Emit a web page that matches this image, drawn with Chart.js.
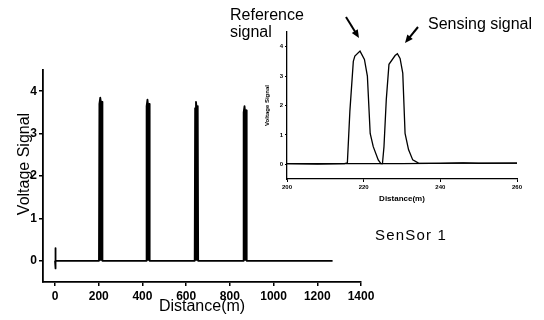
<!DOCTYPE html>
<html>
<head>
<meta charset="utf-8">
<script src="https://cdn.jsdelivr.net/npm/chart.js@4.4.1/dist/chart.umd.min.js"></script>
<style>
  body { margin: 0; background: #fff; }
  #wrap { position: relative; width: 544px; height: 320px; overflow: hidden; }
  canvas { position: absolute; }
  #main { left: 0; top: 0; }
  #inset { left: 250px; top: 0; }
</style>
</head>
<body>
<div id="wrap">
  <canvas id="main" width="544" height="320"></canvas>
  <canvas id="inset" width="294" height="215"></canvas>
</div>
<script>
// main trace along the fibre (m, V)
const mainDistance = [0, 1, 2, 4, 120, 201, 203, 207, 211, 215, 217, 300,
  417, 419, 423, 427, 431, 433, 530, 639, 641, 645, 649, 653, 655, 750,
  861, 863, 867, 871, 875, 877, 1000, 1270];
const mainVoltage = [0, 0.3, -0.18, 0, 0, 0, 3.7, 3.85, 3.7, 3.75, 0, 0,
  0, 3.65, 3.8, 3.6, 3.7, 0, 0, 0, 3.6, 3.75, 3.55, 3.65, 0, 0,
  0, 3.5, 3.65, 3.45, 3.55, 0, 0, 0];

// inset: zoom on sensor 1
const refDistance = [200, 208, 215, 215.75, 216.4, 217.3, 217.7, 219.05, 220.2, 220.97,
  221.7, 222.5, 223.8, 224.5, 230, 245, 260];
const refVoltage = [0.02, 0.01, 0.02, 0.05, 1.8, 3.5, 3.68, 3.85, 3.57, 3.0,
  1.05, 0.6, 0.15, 0.02, 0.02, 0.04, 0.04];
const senseDistance = [200, 215, 224.9, 225.3, 225.9, 226.6, 228.2, 228.8, 229.5, 230.2,
  230.8, 231.7, 232.8, 234.3, 240, 246, 250, 260];
const senseVoltage = [0.02, 0.02, 0.02, 0.6, 2.2, 3.4, 3.7, 3.76, 3.6, 3.1,
  1.05, 0.5, 0.15, 0.04, 0.03, 0.05, 0.03, 0.04];

// tick labels
const mainXTicks = [0, 200, 400, 600, 800, 1000, 1200, 1400];
const mainXMinor = [100, 300, 500, 700, 900, 1100, 1300];
const mainYTicks = [0, 1, 2, 3, 4];
const insetXTicks = [200, 220, 240, 260];
const insetYTicks = [0, 1, 2, 3, 4];

const FONT = "'Liberation Sans', Arial, sans-serif";
const toPoints = (xs, ys) => xs.map((x, i) => ({ x: x, y: ys[i] }));

function axisStyle(tickLen, width) {
  return {
    display: true,
    drawOnChartArea: false,
    drawTicks: true,
    tickLength: tickLen,
    color: "#000",
    lineWidth: width,
  };
}

function arrow(ctx, x1, y1, x2, y2) {
  const a = Math.atan2(y2 - y1, x2 - x1);
  ctx.lineWidth = 2;
  ctx.beginPath();
  ctx.moveTo(x1, y1);
  ctx.lineTo(x2 - 5 * Math.cos(a), y2 - 5 * Math.sin(a));
  ctx.stroke();
  ctx.beginPath();
  ctx.moveTo(x2, y2);
  ctx.lineTo(x2 - 8 * Math.cos(a) + 3.5 * Math.sin(a), y2 - 8 * Math.sin(a) - 3.5 * Math.cos(a));
  ctx.lineTo(x2 - 8 * Math.cos(a) - 3.5 * Math.sin(a), y2 - 8 * Math.sin(a) + 3.5 * Math.cos(a));
  ctx.closePath();
  ctx.fill();
}

// y title, labels and arrows around the inset
const notes = {
  id: "notes",
  afterDraw(chart) {
    const ctx = chart.ctx;
    ctx.save();
    ctx.fillStyle = "#000";
    ctx.strokeStyle = "#000";
    ctx.font = "16px " + FONT;
    ctx.save();
    ctx.translate(25, 164);
    ctx.rotate(-Math.PI / 2);
    ctx.textAlign = "center";
    ctx.textBaseline = "middle";
    ctx.fillText("Voltage Signal", 0, 0);
    ctx.restore();
    ctx.fillText("Reference", 230, 20);
    ctx.fillText("signal", 230, 37);
    ctx.fillText("Sensing signal", 428, 29);
    ctx.font = "15px " + FONT;
    ctx.letterSpacing = "1.2px";
    ctx.fillText("SenSor 1", 375, 240);
    ctx.letterSpacing = "0px";
    arrow(ctx, 346, 17, 359, 38);
    arrow(ctx, 418, 27, 405, 43);
    ctx.restore();
  },
};

const mainChart = new Chart(document.getElementById("main"), {
  type: "scatter",
  data: {
    datasets: [
      {
        data: toPoints(mainDistance, mainVoltage),
        showLine: true,
        borderColor: "#000",
        backgroundColor: "#000",
        fill: "origin",
        borderWidth: 1.8,
        borderJoinStyle: "round",
        pointRadius: 0,
      },
    ],
  },
  options: {
    responsive: false,
    animation: false,
    layout: { padding: { top: 70, right: 183, left: 0, bottom: 0 } },
    plugins: { legend: { display: false }, tooltip: { enabled: false } },
    scales: {
      x: {
        type: "linear",
        min: -55,
        max: 1400,
        grid: axisStyle(4, 1.5),
        border: { color: "#000", width: 1.8 },
        afterBuildTicks: (scale) => {
          scale.ticks = mainXTicks.concat(mainXMinor).sort((a, b) => a - b).map((v) => ({ value: v }));
        },
        afterFit: (scale) => { scale.height = 38; },
        ticks: {
          padding: 3,
          maxRotation: 0,
          color: "#000",
          font: { family: FONT, size: 12, weight: "bold" },
          callback: (v) => (mainXTicks.includes(v) ? v : ""),
        },
        title: {
          display: true,
          text: "Distance(m)",
          color: "#000",
          font: { family: FONT, size: 16 },
          padding: { top: 0, bottom: 4 },
        },
      },
      y: {
        min: -0.5,
        max: 4.5,
        grid: axisStyle(4, 1.5),
        border: { color: "#000", width: 1.8 },
        afterBuildTicks: (scale) => {
          scale.ticks = mainYTicks.map((v) => ({ value: v }));
        },
        afterFit: (scale) => { scale.width = 43; },
        ticks: {
          padding: 2,
          color: "#000",
          font: { family: FONT, size: 12, weight: "bold" },
        },
      },
    },
  },
  plugins: [notes],
});

const insetChart = new Chart(document.getElementById("inset"), {
  type: "scatter",
  data: {
    datasets: [
      {
        label: "Reference signal",
        data: toPoints(refDistance, refVoltage),
        showLine: true,
        borderColor: "#000",
        borderWidth: 1.3,
        pointRadius: 0,
      },
      {
        label: "Sensing signal",
        data: toPoints(senseDistance, senseVoltage),
        showLine: true,
        borderColor: "#000",
        borderWidth: 1.3,
        pointRadius: 0,
      },
    ],
  },
  options: {
    responsive: false,
    animation: false,
    layout: { padding: { top: 32, right: 27, left: 0, bottom: 0 } },
    plugins: { legend: { display: false }, tooltip: { enabled: false } },
    scales: {
      x: {
        type: "linear",
        min: 200,
        max: 260,
        grid: axisStyle(3, 1),
        border: { color: "#000", width: 1.3 },
        afterBuildTicks: (scale) => {
          scale.ticks = insetXTicks.map((v) => ({ value: v }));
        },
        afterFit: (scale) => { scale.height = 36; },
        ticks: {
          padding: 2,
          maxRotation: 0,
          color: "#000",
          font: { family: FONT, size: 6, weight: "bold" },
        },
        title: {
          display: true,
          text: "Distance(m)",
          color: "#000",
          font: { family: FONT, size: 8, weight: "bold" },
          padding: { top: 0, bottom: 11 },
        },
      },
      y: {
        min: -0.5,
        max: 4.5,
        grid: axisStyle(2, 1),
        border: { color: "#000", width: 1.3 },
        afterBuildTicks: (scale) => {
          scale.ticks = insetYTicks.map((v) => ({ value: v }));
        },
        afterFit: (scale) => { scale.width = 37; },
        ticks: {
          padding: 2,
          color: "#000",
          font: { family: FONT, size: 6, weight: "bold" },
        },
        title: {
          display: true,
          text: "Voltage Signal",
          color: "#000",
          font: { family: FONT, size: 6, weight: "bold" },
          padding: { top: 14, bottom: 0 },
        },
      },
    },
  },
});
</script>
</body>
</html>
